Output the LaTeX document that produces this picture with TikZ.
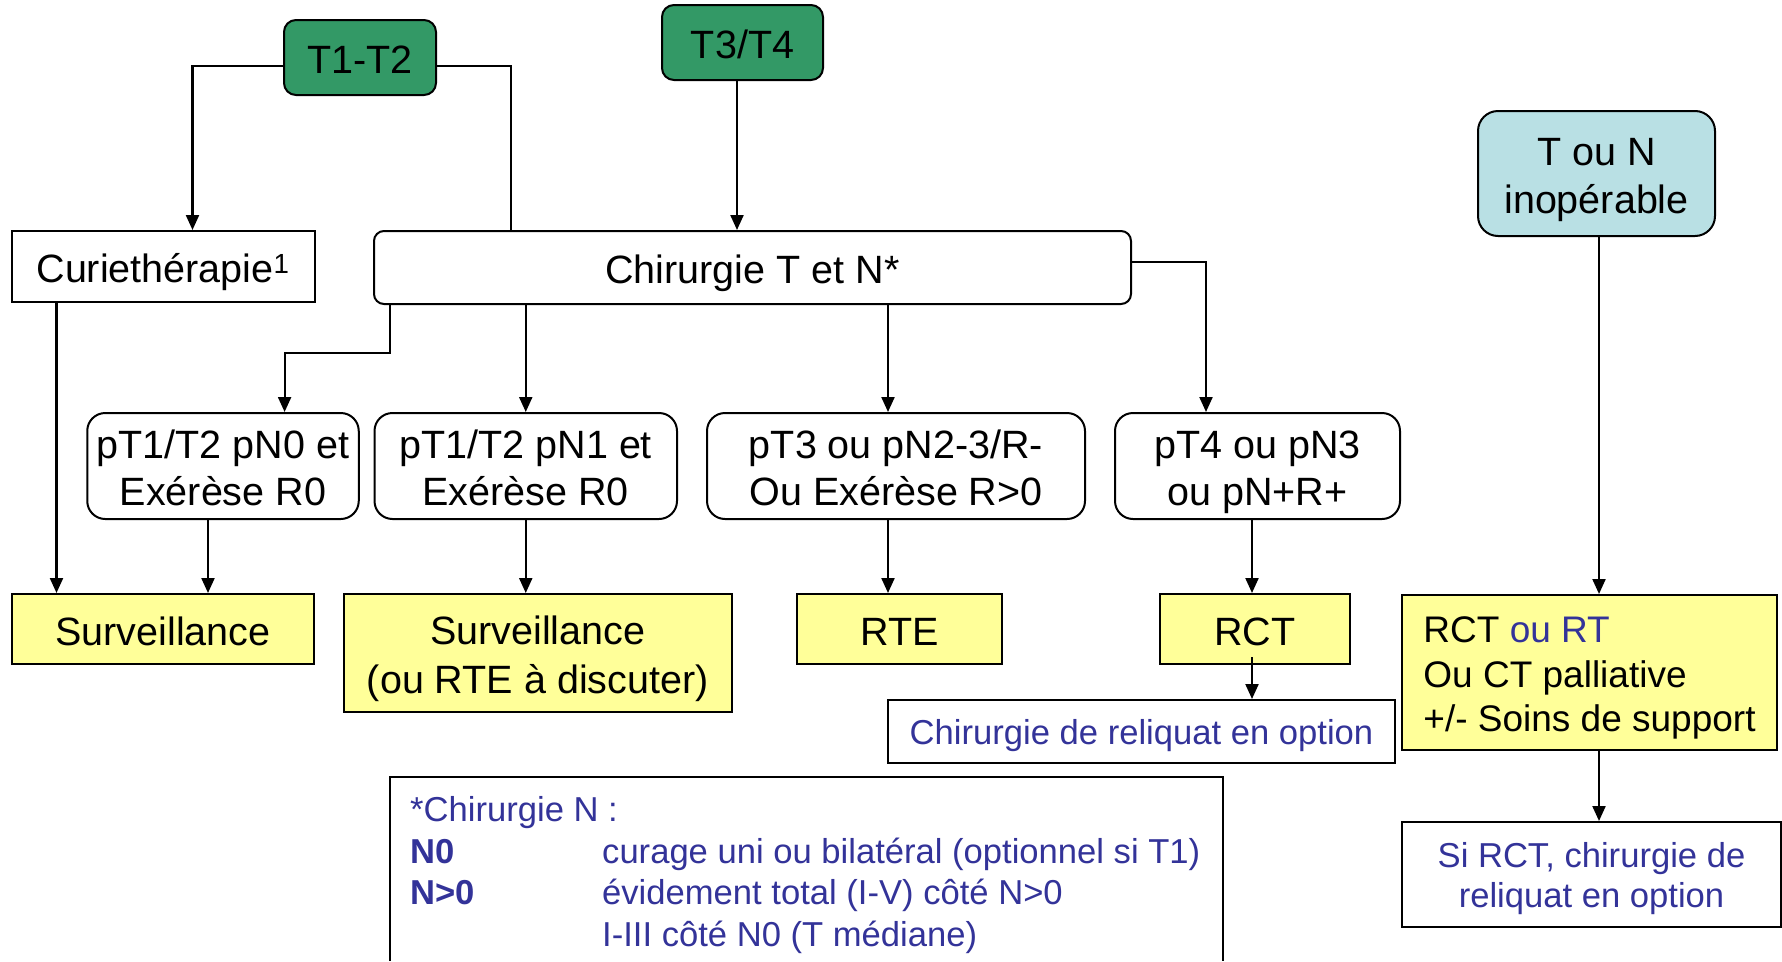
\documentclass[tikz,border=0pt]{standalone}
\usepackage{fontspec}
\setmainfont{Liberation Sans}
\usetikzlibrary{arrows.meta}

\definecolor{stagegreen}{RGB}{51,153,102}
\definecolor{inopblue}{RGB}{185,224,228}
\definecolor{treatyellow}{RGB}{255,255,153}
\definecolor{noteblue}{RGB}{51,51,153}

\newcommand\bigtxt{\fontsize{39.5}{46.5}\selectfont}
\newcommand\notetxt{\fontsize{34.6}{41}\selectfont}

% struts fixing the vertical placement of the first and last lines
\newcommand\tsbig{\rule{0pt}{42pt}}
\newcommand\bsbig{\rule[-10pt]{0pt}{10pt}}
\newcommand\tsmid{\rule{0pt}{38pt}}
\newcommand\bsmid{\rule[-9pt]{0pt}{9pt}}
\newcommand\tsnote{\rule{0pt}{34pt}}
\newcommand\bsnote{\rule[-9pt]{0pt}{9pt}}

\tikzset{
  box/.style={draw=black, line width=2pt, inner sep=0pt, align=center, font=\bigtxt},
  stagebox/.style={box, fill=stagegreen, rounded corners=12pt},
  plainbox/.style={box, fill=white},
  roundbox/.style={box, fill=white, rounded corners=18pt},
  treatbox/.style={box, fill=treatyellow},
  notebox/.style={box, fill=white, text=noteblue, font=\notetxt},
  conn/.style={line width=2.2pt, draw=black},
  arr/.style={conn, -{Triangle[length=15pt,width=13pt]}}
}

\begin{document}
\begin{tikzpicture}[x=1pt, y=-1pt]
  % page
  \fill[white] (0,0) rectangle (1782,961);
  \useasboundingbox (0,0) rectangle (1782,961);

  % stages
  \node[stagebox, minimum width=152pt, minimum height=75pt] (t12) at (360,57.5) {\tsbig T1-T2\bsbig};
  \node[stagebox, minimum width=161pt, minimum height=75pt] (t34) at (742.5,42.5) {\tsbig T3/T4\bsbig};
  \node[box, fill=inopblue, rounded corners=20pt, minimum width=237pt, minimum height=125pt,
        font={\fontsize{39.5}{48}\selectfont}] (toun) at (1596.5,173.5) {\tsbig T ou N\\inopérable\bsbig};

  % first-line treatments
  \node[plainbox, minimum width=303pt, minimum height=71pt] (curie) at (163,266.5) {\tsbig Curiethérapie\textsuperscript{1}\bsbig};
  \node[box, fill=white, rounded corners=10pt, minimum width=757pt, minimum height=73pt] (chir) at (752.5,267.5) {\tsbig Chirurgie T et N*\bsbig};

  % pathological results
  \node[roundbox, minimum width=271.5pt, minimum height=106pt] (pn0) at (223,466) {\tsbig pT1/T2 pN0 et\\Exérèse R0\bsbig};
  \node[roundbox, minimum width=302.5pt, minimum height=106pt] (pn1) at (525.75,466) {\tsbig pT1/T2 pN1 et\\Exérèse R0\bsbig};
  \node[roundbox, minimum width=378pt, minimum height=106pt] (pt3) at (896,466) {\tsbig pT3 ou pN2-3/R-\\Ou Exérèse R>0\bsbig};
  \node[roundbox, minimum width=285pt, minimum height=106pt] (pt4) at (1257.5,466) {\tsbig pT4 ou pN3\\ou pN+R+\bsbig};

  % adjuvant decisions
  \node[treatbox, minimum width=302pt, minimum height=70pt] (surv1) at (163,629) {\tsbig Surveillance\bsbig};
  \node[treatbox, minimum width=388.5pt, minimum height=118pt,
        font={\fontsize{39.5}{49}\selectfont}] (surv2) at (537.75,653) {\tsbig Surveillance\\(ou RTE à discuter)\bsbig};
  \node[treatbox, minimum width=205pt, minimum height=70pt] (rte) at (899.5,629) {\tsbig RTE\bsbig};
  \node[treatbox, minimum width=190pt, minimum height=70pt] (rct) at (1255,629) {\tsbig RCT\bsbig};
  \node[treatbox, align=left, minimum width=375pt, minimum height=155pt,
        font={\fontsize{37}{44.5}\selectfont}] (rctrt) at (1589.5,672.5)
        {\tsmid RCT {\color{noteblue}ou RT}\\Ou CT palliative\\+/- Soins de support\bsmid};

  % optional salvage surgery
  \node[notebox, minimum width=507pt, minimum height=63pt] (rel) at (1141.5,731.5) {\tsnote Chirurgie de reliquat en option\bsnote};
  \node[notebox, minimum width=379pt, minimum height=105pt,
        font={\fontsize{34.6}{40}\selectfont}] (sircr) at (1591.5,874.5) {\tsnote Si RCT, chirurgie de\\reliquat en option\bsnote};

  % footnote on neck surgery
  \draw[line width=2pt] (390,961) -- (390,777) -- (1223,777) -- (1223,961);
  \node[anchor=base west, inner sep=0pt, text=noteblue, font={\fontsize{34.6}{41.5}\selectfont}] (note) at (410,821.5)
    {\begin{tabular}[t]{@{}p{192pt}@{}l@{}}
      \multicolumn{2}{@{}l@{}}{*Chirurgie N :}\\
      \textbf{N0}  & curage uni ou bilatéral (optionnel si T1)\\
      \textbf{N>0} & évidement total (I-V) côté N>0\\
                   & I-III côté N0 (T médiane)
     \end{tabular}};

  % helper point for the off-centre branch to pT3
  \coordinate (p3x) at ([xshift=-8pt]pt3.north);

  % connectors
  \draw[arr]  ([yshift=-8.5pt]t12.west) -| ([xshift=29.5pt]curie.north);
  \draw[conn] ([yshift=-8.5pt]t12.east) -| ([xshift=-241.5pt]chir.north);
  \draw[arr]  ([xshift=-5.5pt]t34.south) -- ([xshift=-5.5pt]t34.south |- chir.north);
  \draw[arr]  ([yshift=5.5pt]chir.east) -| ([xshift=-51.5pt]pt4.north);

  \draw[arr]  ([xshift=-362.5pt]chir.south) -- ++(0,48) -| ([xshift=61.6pt]pn0.north);
  \draw[arr]  (chir.south -| pn1.north) -- (pn1.north);
  \draw[arr]  (chir.south -| p3x) -- (p3x);

  \draw[arr]  ([xshift=-106.5pt]curie.south) -- ([xshift=-106.5pt]curie.south |- surv1.north);
  \draw[arr]  ([xshift=-15pt]pn0.south) -- ([xshift=-15pt]pn0.south |- surv1.north);
  \draw[arr]  (pn1.south) -- (pn1.south |- surv2.north);
  \draw[arr]  ([xshift=-8pt]pt3.south) -- ([xshift=-8pt]pt3.south |- rte.north);
  \draw[arr]  ([xshift=-5.5pt]pt4.south) -- ([xshift=-5.5pt]pt4.south |- rct.north);
  \draw[arr]  ([xshift=-3pt,yshift=8pt]rct.south) -- ([xshift=-3pt]rct.south |- rel.north);

  \draw[arr]  ([xshift=2.5pt]toun.south) -- ([xshift=2.5pt]toun.south |- rctrt.north);
  \draw[arr]  ([xshift=9.5pt]rctrt.south) -- ([xshift=9.5pt]rctrt.south |- sircr.north);
\end{tikzpicture}
\end{document}
